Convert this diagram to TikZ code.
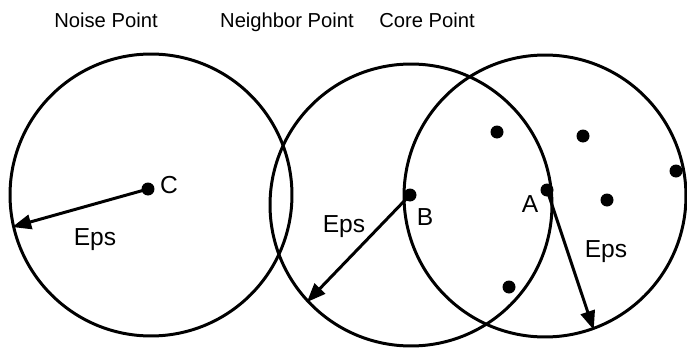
\documentclass[tikz,border=0pt]{standalone}
\usepackage{fontspec}
\setmainfont{Liberation Sans}
\usetikzlibrary{arrows.meta}

\begin{document}
\begin{tikzpicture}[x=0.02cm, y=-0.02cm, line width=1.7pt,
  ring/.style={draw, circle, minimum size=5.64cm, inner sep=0pt},
  pt/.style={fill, circle, minimum size=0.26cm, inner sep=0pt},
  title/.style={font=\fontsize{11.5}{14}\selectfont, anchor=base},
  lbl/.style={font=\fontsize{14}{16}\selectfont, anchor=base},
  eps/.style={-{Triangle[length=3.8mm,width=2.9mm]}}]
  \useasboundingbox (0,0) rectangle (687,352);
  % ---- titles
  \node[title] (tnoise) at (106,27) {Noise Point};
  \node[title] (tneigh) at (287,27) {Neighbor Point};
  \node[title] (tcore)  at (427,27) {Core Point};
  % ---- eps neighbourhoods
  \node[ring] (ringC) at (151,195) {};
  \node[ring] (ringB) at (411,205) {};
  \node[ring] (ringA) at (545,196) {};
  % ---- points
  \node[pt] (C) at (148,189) {};
  \node[pt] (B) at (410,195) {};
  \node[pt] (A) at (547,190) {};
  \foreach \name/\x/\y in {p1/497/132, p2/583/136, p3/676/171, p4/607/200, p5/509/287}
    \node[pt] (\name) at (\x,\y) {};
  % ---- radii
  \draw[eps] (C.center) -- (ringC.193);
  \draw[eps] (B.center) -- (ringB.223);
  \draw[eps] (A.center) -- (ringA.290);
  % ---- labels
  \node[lbl] (lC) at (169,193) {C};
  \node[lbl] (lB) at (425,225) {B};
  \node[lbl] (lA) at (530,212) {A};
  \node[lbl] (eC) at (95,245) {Eps};
  \node[lbl] (eB) at (344,232) {Eps};
  \node[lbl] (eA) at (606,257) {Eps};
\end{tikzpicture}
\end{document}
